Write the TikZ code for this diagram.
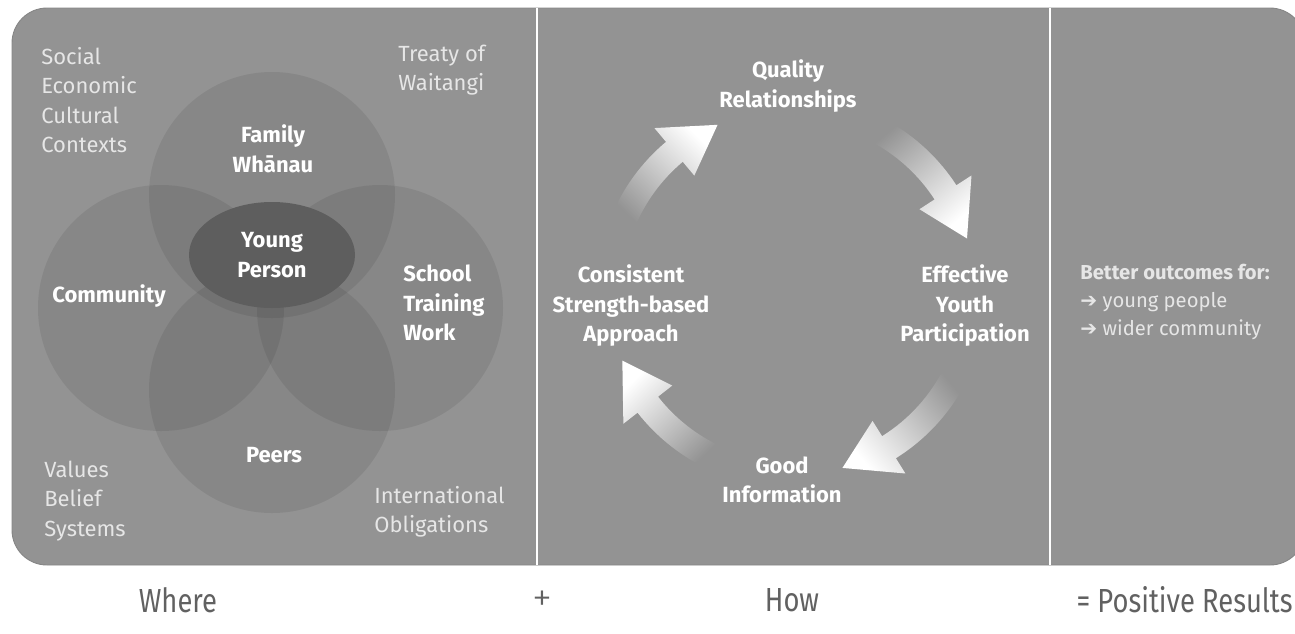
\documentclass[tikz,border=0pt]{standalone}
\usepackage{fontspec}
\setmainfont{Fira Sans}
\newfontfamily\symfont{DejaVu Sans}
\newfontfamily\footfont[FakeStretch=0.82]{Fira Sans}
\newfontfamily\plusfont{Fira Sans Light}
\usepackage{xcolor}
\usepackage{tikz}
\definecolor{panelgrey}{HTML}{939393}
\definecolor{panelline}{HTML}{858585}
\definecolor{persongrey}{HTML}{5E5E5E}
\definecolor{contextgrey}{HTML}{E6E6E6}
\definecolor{footgrey}{HTML}{616161}

% one shaded arrow of the cycle: tail angle, tip angle
\newcommand{\cyclearrow}[2]{%
  \pgfmathsetmacro{\headang}{#2-16}%
  \pgfmathsetmacro{\shadeang}{-(#1+#2)/2}%
  \shade[top color=panelgrey, bottom color=white, shading angle=\shadeang]
    (#1:196) arc[start angle=#1, end angle=\headang, radius=196]
    -- (\headang:214) -- (#2:183) -- (\headang:152) -- (\headang:170)
    arc[start angle=\headang, end angle=#1, radius=170] -- cycle;}

\begin{document}
\begin{tikzpicture}[x=0.02cm,y=-0.02cm,
    context/.style={text=contextgrey, align=left, inner sep=0pt,
      font=\fontsize{12.5}{16.8}\selectfont},
    sphere/.style={text=white, align=center, inner sep=0pt,
      font=\bfseries\fontsize{12.5}{16.8}\selectfont},
    ring/.style={fill=black, fill opacity=0.08},
    foot/.style={text=footgrey, inner sep=0pt,
      font=\footfont\fontsize{19}{22}\selectfont}]
    \useasboundingbox (0,0) rectangle (1295,633);
    % panel
    \fill[panelgrey, draw=panelline, line width=0.5pt, rounded corners=0.7cm]
      (12,8) rectangle (1305,565);
    \draw[white, line width=1.2pt] (537,8) -- (537,565);
    \draw[white, line width=1.2pt] (1050,8) -- (1050,565);
    %
    % where
    \fill[ring] (272,195) circle (123);
    \fill[ring] (161,308) circle (123);
    \fill[ring] (380,308) circle (123);
    \fill[ring] (272,390) circle (123);
    \fill[persongrey] (272,255) ellipse (83 and 53);
    \node[context, anchor=west] (social) at (41,100)
      {Social\\Economic\\Cultural\\Contexts};
    \node[context, anchor=west] (treaty) at (398,70) {Treaty of\\Waitangi};
    \node[context, anchor=west] (values) at (44,501) {Values\\Belief\\Systems};
    \node[context, anchor=west] (intl) at (374,512)
      {International\\Obligations};
    \node[sphere] (family) at (273,149) {Family\\Whānau};
    \node[sphere] (young) at (272,255) {Young\\Person};
    \node[sphere] (community) at (109,296) {Community};
    \node[sphere, align=left, anchor=west] (school) at (403,303)
      {School\\Training\\Work};
    \node[sphere] (peers) at (274,455) {Peers};
    %
    % how
    \begin{scope}[shift={(792,292)}]
      \cyclearrow{202}{246}
      \cyclearrow{297}{343}
      \cyclearrow{26}{74}
      \cyclearrow{115}{158}
    \end{scope}
    \node[sphere] (quality) at (788,86) {Quality\\Relationships};
    \node[sphere] (effective) at (965,306) {Effective\\Youth\\Participation};
    \node[sphere] (good) at (782,480) {Good\\Information};
    \node[sphere] (consistent) at (631,306)
      {Consistent\\Strength-based\\Approach};
    %
    % results
    \node[context, anchor=west, font=\fontsize{11.5}{16}\selectfont]
      (better) at (1080,302)
      {\textbf{Better outcomes for:}\\{\symfont\bfseries ➔} young people\\
       {\symfont\bfseries ➔} wider community};
    %
    \node[foot] (where) at (178,600) {Where};
    \node[foot, font=\plusfont\fontsize{23}{23}\selectfont] (plus) at (542,601) {+};
    \node[foot] (how) at (792,600) {How};
    \node[foot, anchor=east] (results) at (1293,600) {= Positive Results};
\end{tikzpicture}
\end{document}
